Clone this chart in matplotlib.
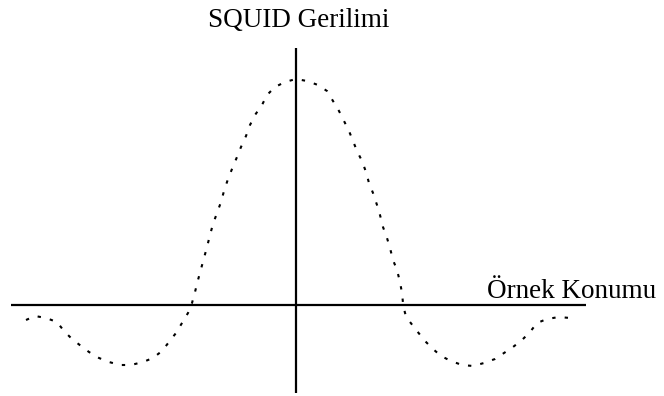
import matplotlib
matplotlib.use("Agg")
import matplotlib.pyplot as plt

# SQUID voltage vs. sample position (arbitrary units)
position = [
    -27.0, -26.1, -25.0, -23.9, -23.2, -22.4, -21.5, -20.7, -19.7, -18.7,
    -17.6, -16.5, -15.3, -14.3, -13.4, -12.7, -12.0, -11.4, -10.8, -10.4,
    -10.1, -9.8, -9.5, -9.2, -8.9, -8.6, -8.3, -7.9, -7.5, -7.2,
    -6.8, -6.4, -5.9, -5.5, -5.0, -4.6, -4.1, -3.4, -2.9, -2.1,
    -1.1, 0.0,
    1.1, 2.2, 3.1, 3.7, 4.3, 4.8, 5.3, 5.7, 6.1, 6.6,
    7.0, 7.3, 7.7, 8.1, 8.4, 8.7, 9.1, 9.4, 9.7, 10.1,
    10.4, 10.6, 10.7, 10.9, 11.4, 12.1, 12.9, 13.7, 14.5, 15.5,
    16.6, 17.7, 18.8, 19.9, 20.8, 21.7, 22.6, 23.4, 24.1, 25.1,
    26.3, 27.4,
]
voltage = [
    -1.5, -1.1, -1.3, -1.7, -2.6, -3.4, -4.1, -4.7, -5.3, -5.7,
    -6.0, -6.0, -5.7, -5.3, -4.6, -3.7, -2.8, -1.8, -0.8, 0.2,
    1.3, 2.5, 3.6, 4.7, 5.8, 7.0, 8.1, 9.2, 10.3, 11.4,
    12.6, 13.6, 14.8, 15.8, 16.9, 18.0, 19.0, 20.0, 21.0, 21.8,
    22.3, 22.6,
    22.4, 22.0, 21.4, 20.4, 19.4, 18.4, 17.4, 16.4, 15.4, 14.4,
    13.3, 12.2, 11.2, 10.0, 9.0, 7.8, 6.7, 5.7, 4.5, 3.5,
    2.3, 1.2, 0.2, -0.8, -1.7, -2.6, -3.6, -4.4, -5.1, -5.6,
    -6.0, -6.1, -5.8, -5.4, -4.8, -4.2, -3.5, -2.7, -1.8, -1.4,
    -1.2, -1.3,
]

# axis extents
x_axis = [-28.5, 29.0]
y_axis = [-8.8, 25.7]

x_label = "Örnek Konumu"
y_label = "SQUID Gerilimi"

plt.rcParams["font.family"] = ["Liberation Serif", "DejaVu Serif"]

fig = plt.figure(figsize=(6.64, 3.96), dpi=100)
ax = fig.add_axes([0, 0, 1, 1])
ax.set_xlim(-29.6, 36.8)
ax.set_ylim(-9.1, 30.5)
ax.axis("off")

# coordinate axes
ax.plot(x_axis, [0, 0], color="black", lw=1.6, solid_capstyle="butt")
ax.plot([0, 0], y_axis, color="black", lw=1.6, solid_capstyle="butt")

# response curve
ax.plot(position, voltage, color="black", lw=1.5,
        linestyle=(0, (1.6, 4.4)), dash_capstyle="butt")

ax.text(0.3, 27.8, y_label, ha="center", va="baseline", fontsize=19.5)
ax.text(19.1, 0.75, x_label, ha="left", va="baseline", fontsize=19.5)

fig.savefig("out.png", dpi=100)
plt.close(fig)
